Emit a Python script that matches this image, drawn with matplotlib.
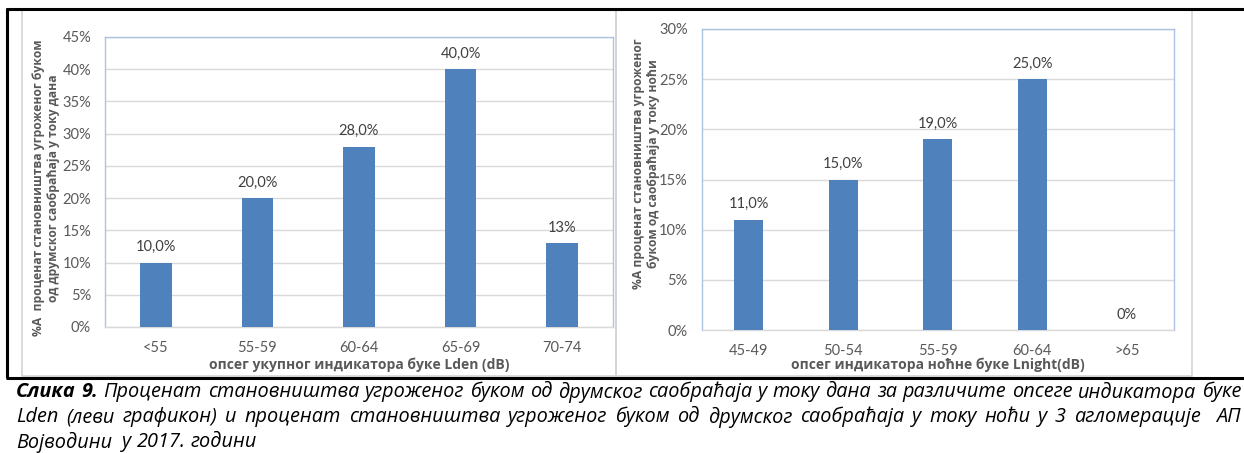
import matplotlib
matplotlib.use("Agg")
import matplotlib.pyplot as plt
from matplotlib.lines import Line2D
from matplotlib.patches import Rectangle
from matplotlib.ticker import FuncFormatter, MultipleLocator

# ---- data -------------------------------------------------------------
day_categories = ["<55", "55-59", "60-64", "65-69", "70-74"]
day_values = [10.0, 20.0, 28.0, 40.0, 13.0]
day_labels = ["10,0%", "20,0%", "28,0%", "40,0%", "13%"]

night_categories = ["45-49", "50-54", "55-59", "60-64", ">65"]
night_values = [11.0, 15.0, 19.0, 25.0, 0.0]
night_labels = ["11,0%", "15,0%", "19,0%", "25,0%", "0%"]

day_ylabel = "%A  проценат становништва угроженог буком\nод друмског саобраћаја у току дана"
night_ylabel = "%A проценат становништва угроженог\nбуком од саобраћаја у току ноћи"
day_xlabel = "опсег укупног индикатора буке Lden (dB)"
night_xlabel = "опсег индикатора ноћне буке Lnight(dB)"

caption_lines = [
    "Слика 9. Проценат становништва угроженог буком од друмског саобраћаја у току дана за различите опсеге индикатора буке",
    "Lden (леви графикон) и проценат становништва угроженог буком од друмског саобраћаја у току ноћи у 3 агломерације  АП",
    "Војводини  у 2017. години",
]
caption_bold_words = 2  # "Слика 9."

# ---- style ------------------------------------------------------------
W, H = 1244, 453
TEXT_FONT = ["Open Sans", "DejaVu Sans"]
NUM_FONT = ["Lato", "Open Sans", "DejaVu Sans"]
BAR = "#4f81bd"
GRID = "#d9d9d9"
PLOT_EDGE = "#adc3e2"
AXIS_TEXT = "#595959"
LABEL_TEXT = "#404040"

plt.rcParams["font.family"] = TEXT_FONT


def fx(x):
    return x / W


def fy(y):
    return 1 - y / H


fig = plt.figure(figsize=(W / 100, H / 100), dpi=100)
fig.patch.set_facecolor("white")

# chart-area outlines and the black frame
for x0, x1 in [(22, 616), (616, 1192)]:
    fig.add_artist(Rectangle((fx(x0), fy(376)), (x1 - x0) / W, (376 - 9) / H,
                             transform=fig.transFigure, fill=False,
                             edgecolor="#d4d4d4", lw=1.2))
frame_kw = dict(transform=fig.transFigure, color="black", lw=2.2,
                solid_capstyle="butt")
fig.add_artist(Line2D([fx(6), 1], [fy(8.5), fy(8.5)], **frame_kw))
fig.add_artist(Line2D([fx(6), 1], [fy(377.5), fy(377.5)], **frame_kw))
fig.add_artist(Line2D([fx(7), fx(7)], [fy(8), fy(378)], **frame_kw))


def bar_panel(box, cats, vals, labels, ymax, ylabel, ylabel_xy, xlabel, xlabel_xy):
    left, top, right, bottom = box
    ax = fig.add_axes([fx(left), fy(bottom), (right - left) / W, (bottom - top) / H])
    xs = list(range(len(cats)))
    ax.bar(xs, vals, width=0.31, color=BAR, zorder=3)
    ax.set_xlim(-0.5, len(cats) - 0.5)
    ax.set_ylim(0, ymax)
    ax.yaxis.set_major_locator(MultipleLocator(5))
    ax.yaxis.set_major_formatter(FuncFormatter(lambda v, p: f"{v:.0f}%"))
    ax.set_xticks(xs)
    ax.set_xticklabels(cats)
    ax.grid(axis="y", color=GRID, lw=1.0, zorder=0)
    for side in ("left", "top", "right"):
        ax.spines[side].set_color(PLOT_EDGE)
        ax.spines[side].set_linewidth(1.0)
    ax.spines["bottom"].set_color(GRID)
    ax.spines["bottom"].set_linewidth(1.0)
    ax.tick_params(axis="both", length=0, colors=AXIS_TEXT, labelsize=10.5)
    ax.tick_params(axis="y", pad=10)
    ax.tick_params(axis="x", pad=10)
    for lab in ax.get_xticklabels() + ax.get_yticklabels():
        lab.set_family(NUM_FONT)
    for x, v, t in zip(xs, vals, labels):
        ax.annotate(t, (x, v), xytext=(0, 6), textcoords="offset points",
                    ha="center", va="bottom", fontsize=10.5, color=LABEL_TEXT,
                    family=NUM_FONT)
    fig.text(fx(ylabel_xy[0]), fy(ylabel_xy[1]), ylabel, rotation=90,
             ha="center", va="center", multialignment="center",
             fontsize=8.7, fontweight="bold", color=AXIS_TEXT, linespacing=1.25)
    fig.text(fx(xlabel_xy[0]), fy(xlabel_xy[1]), xlabel, ha="center", va="center",
             fontsize=10.0, fontweight="bold", color=AXIS_TEXT)
    return ax


bar_panel((105, 37, 613, 327), day_categories, day_values, day_labels, 45,
          day_ylabel, (46, 188), day_xlabel, (359, 365))
bar_panel((701.6, 29, 1174, 330), night_categories, night_values, night_labels, 30,
          night_ylabel, (646, 164), night_xlabel, (938, 365))

# ---- caption, justified across the page width ----------------------------
renderer = fig.canvas.get_renderer()
CAP_X0, CAP_X1 = 16, 1241
cap_y = [392, 417, 442]


def text_width(s, size, weight="normal"):
    t = fig.text(0, 0, s, fontsize=size, style="italic", fontweight=weight)
    w = t.get_window_extent(renderer).width
    t.remove()
    return w


# size the caption so its first line fills the width with plain word spacing
probe = 12.0
head = " ".join(caption_lines[0].split(" ")[:caption_bold_words])
rest = " ".join(caption_lines[0].split(" ")[caption_bold_words:])
natural = text_width(head, probe, "bold") + text_width(" " + rest, probe)
CAP_SIZE = probe * (CAP_X1 - CAP_X0 - 8) / natural

space_w = text_width("a a", CAP_SIZE) - text_width("aa", CAP_SIZE)
word_index = 0
for li, (line, y) in enumerate(zip(caption_lines, cap_y)):
    words, gaps = [], []
    run = 0
    for tok in line.split(" "):
        if tok == "":
            run += 1
            continue
        if words:
            gaps.append(run + 1)
        words.append(tok)
        run = 0
    artists, widths = [], []
    for w in words:
        bold = word_index < caption_bold_words
        word_index += 1
        t = fig.text(fx(CAP_X0), fy(y), w, fontsize=CAP_SIZE, style="italic",
                     fontweight="bold" if bold else "normal", color="black",
                     ha="left", va="center")
        artists.append(t)
        widths.append(t.get_window_extent(renderer).width)
    if li == len(caption_lines) - 1:
        unit = space_w
    else:
        unit = ((CAP_X1 - CAP_X0) - sum(widths)) / sum(gaps)
    x = CAP_X0
    for i, (t, w) in enumerate(zip(artists, widths)):
        t.set_x(fx(x))
        if i < len(gaps):
            x += w + unit * gaps[i]

fig.savefig("out.png", dpi=100, facecolor="white")
